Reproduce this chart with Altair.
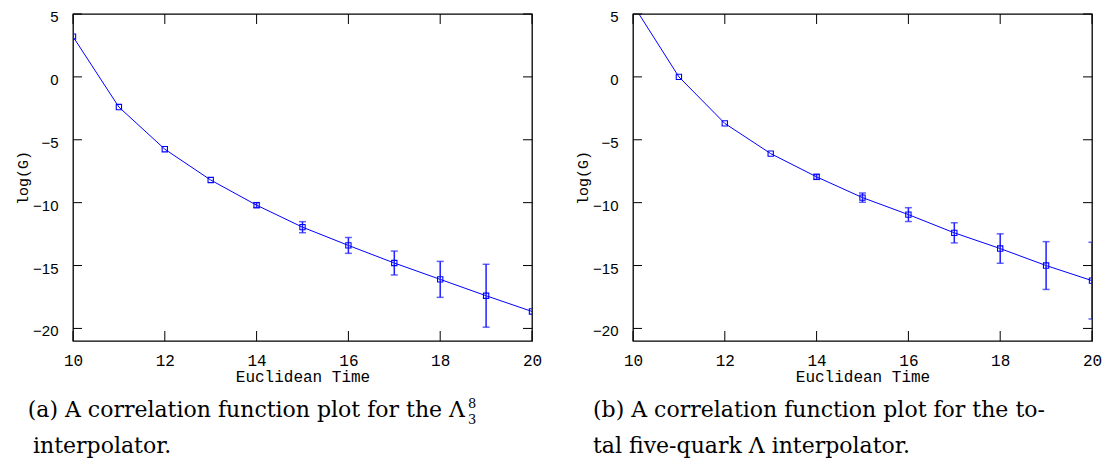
import altair as alt
import pandas as pd

# ---- data ----
times = [10, 11, 12, 13, 14, 15, 16, 17, 18, 19, 20]
a_vals = [3.2, -2.4, -5.75, -8.2, -10.2, -11.95, -13.4, -14.8, -16.1, -17.4, -18.65]
a_errs = [0.0, 0.0, 0.0, 0.0, 0.2, 0.44, 0.63, 0.95, 1.43, 2.5, 0.0]
b_vals = [5.75, 0.0, -3.7, -6.1, -7.95, -9.6, -10.95, -12.4, -13.65, -15.0, -16.2]
b_errs = [0.0, 0.0, 0.0, 0.0, 0.2, 0.37, 0.55, 0.8, 1.17, 1.9, 3.05]
x_ticks = [10, 12, 14, 16, 18, 20]
y_ticks = [-20, -15, -10, -5, 0, 5]
x_domain = [10, 20]
y_domain = [-21, 5]

x_title = "Euclidean Time"
y_title = "log(G)"
cap_a_1 = "(a) A correlation function plot for the Λ"
cap_a_sup = "8"
cap_a_sub = "3"
cap_a_2 = "interpolator."
cap_b_1 = "(b) A correlation function plot for the to-"
cap_b_2 = "tal five-quark Λ interpolator."

W, H = 459, 327
BLUE = "#0000ff"
ERR_BLUE = "#1f1fff"
CAP_FONT = "DejaVu Serif"
CAP_SIZE = 22


def panel(vals, errs, captions):
    df = pd.DataFrame({"t": times, "v": vals, "e": errs})
    df["lo"] = df["v"] - df["e"]
    df["hi"] = df["v"] + df["e"]
    edf = df[df["e"] > 0]

    xs = alt.Scale(domain=x_domain, nice=False, zero=False)
    ys = alt.Scale(domain=y_domain, nice=False, zero=False)
    xa = alt.Axis(values=x_ticks, title=x_title, grid=False, ticks=True, tickSize=11,
                  tickOpacity=0, domain=False, labelFlush=False,
                  labelFont="Liberation Mono", labelFontSize=16,
                  labelPadding=0, labelColor="black", titleFont="Liberation Mono",
                  titleFontSize=16, titleFontWeight="normal", titleColor="black",
                  titlePadding=0)
    ya = alt.Axis(values=y_ticks, title=y_title, grid=False, ticks=True, tickSize=14,
                  tickOpacity=0, domain=False, labelFlush=False,
                  labelFont="Liberation Sans", labelFontSize=15,
                  labelOffset=2.5, labelPadding=1, labelColor="black",
                  titleFont="Liberation Mono", titleFontSize=15, titleFontWeight="normal",
                  titleColor="black", titlePadding=2)
    X = alt.X("t:Q", scale=xs, axis=xa)
    Y = alt.Y("v:Q", scale=ys, axis=ya)

    base = alt.Chart(df)
    line = base.mark_line(color=BLUE, strokeWidth=1, clip=True).encode(x=X, y=Y)
    pts = base.mark_point(shape="square", size=28, filled=False, color=BLUE,
                          strokeWidth=1.1, clip=True, opacity=1).encode(x=X, y=Y)
    ebase = alt.Chart(edf)
    err = ebase.mark_rule(color=ERR_BLUE, strokeWidth=1.5, clip=True).encode(
        x=X, y=alt.Y("lo:Q", scale=ys, axis=ya), y2="hi:Q")
    cap_lo = ebase.mark_tick(color=ERR_BLUE, orient="horizontal", size=7, thickness=1.5,
                             clip=True).encode(x=X, y=alt.Y("lo:Q", scale=ys, axis=ya))
    cap_hi = ebase.mark_tick(color=ERR_BLUE, orient="horizontal", size=7, thickness=1.5,
                             clip=True).encode(x=X, y=alt.Y("hi:Q", scale=ys, axis=ya))

    ydf = pd.DataFrame({"v": y_ticks})
    xdf = pd.DataFrame({"t": x_ticks})
    ytl = alt.Chart(ydf).mark_rule(color="black", strokeWidth=1).encode(
        y=Y, x=alt.value(0), x2=alt.value(9))
    ytr = alt.Chart(ydf).mark_rule(color="black", strokeWidth=1).encode(
        y=Y, x=alt.value(W - 9), x2=alt.value(W))
    xtb = alt.Chart(xdf).mark_rule(color="black", strokeWidth=1).encode(
        x=X, y=alt.value(H - 10), y2=alt.value(H))
    xtt = alt.Chart(xdf).mark_rule(color="black", strokeWidth=1).encode(
        x=X, y=alt.value(0), y2=alt.value(10))

    one = pd.DataFrame({"k": [0]})
    texts = []
    for (s, x, y, align, size) in captions:
        texts.append(alt.Chart(one).mark_text(
            text=s, align=align, baseline="alphabetic", font=CAP_FONT,
            fontSize=size, color="black").encode(x=alt.value(x), y=alt.value(y)))

    return alt.layer(line, err, cap_lo, cap_hi, pts, ytl, ytr, xtb, xtt, *texts).properties(
        width=W, height=H)


left = panel(a_vals, a_errs, [
    (cap_a_1, 392, H + 76, "right", CAP_SIZE),
    (cap_a_sup, 395, H + 67, "left", 13),
    (cap_a_sub, 395, H + 83, "left", 13),
    (cap_a_2, -40, H + 112, "left", CAP_SIZE),
])
right = panel(b_vals, b_errs, [
    (cap_b_1, -40, H + 76, "left", CAP_SIZE),
    (cap_b_2, -40, H + 112, "left", CAP_SIZE),
])

chart = alt.hconcat(left, right, spacing=31).properties(
    padding={"left": 6, "top": 0, "right": 0, "bottom": 0}
).configure_view(stroke="black", strokeWidth=1.3)

chart.save("out.html", embed_options={"renderer": "svg", "actions": False})
